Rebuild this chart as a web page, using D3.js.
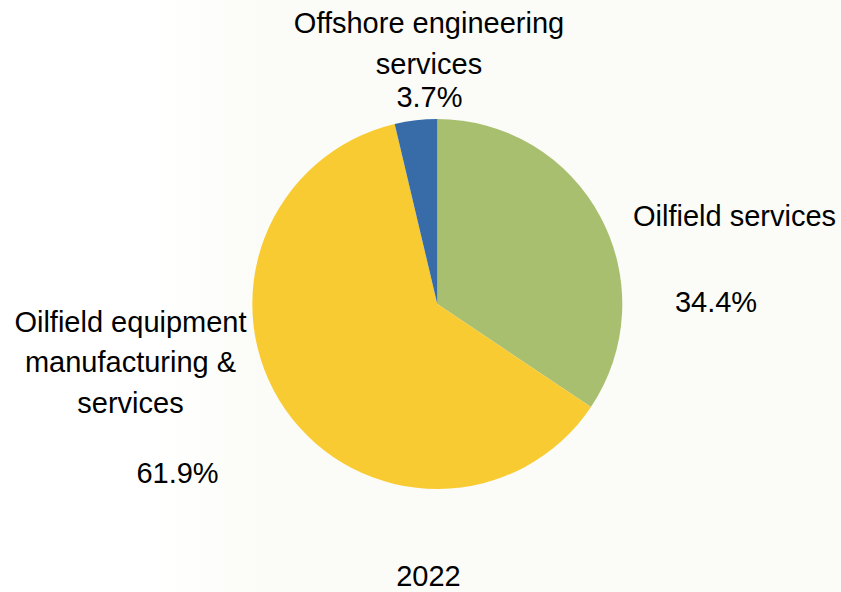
<!DOCTYPE html>
<html>
<head>
<meta charset="utf-8">
<script src="https://cdn.jsdelivr.net/npm/d3@7"></script>
<style>
  html, body { margin: 0; padding: 0; background: #ffffff; }
  svg { display: block; }
  text { font-family: "Liberation Sans", Arial, sans-serif; fill: #000; }
</style>
</head>
<body>
<svg id="chart" width="841" height="592"></svg>
<script>
// Segment shares for 2022 (percent)
const categories = ["Oilfield services", "Oilfield equipment manufacturing & services", "Offshore engineering services"];
const shares = [34.4, 61.9, 3.7];
const colors = ["#a9bf70", "#f9cb33", "#376ca9"];
const yearLabel = "2022";

// Label lines for each segment (name lines; the value goes underneath)
const nameLines = [
  ["Oilfield services"],
  ["Oilfield equipment", "manufacturing &", "services"],
  ["Offshore engineering", "services"]
];

const W = 841, H = 592;
const cx = 437.3, cy = 304, R = 185;

const svg = d3.select("#chart");

// soft off-white plot-area backdrop
const defs = svg.append("defs");
const grad = defs.append("linearGradient").attr("id", "bg")
  .attr("gradientUnits", "userSpaceOnUse")
  .attr("x1", 150).attr("y1", 0).attr("x2", 260).attr("y2", 0);
grad.append("stop").attr("offset", 0).attr("stop-color", "#ffffff");
grad.append("stop").attr("offset", 1).attr("stop-color", "#fbfcf7");
svg.append("rect").attr("x", 0).attr("y", 0).attr("width", W).attr("height", H).attr("fill", "url(#bg)");

const data = categories.map((c, i) => ({ name: c, value: shares[i], color: colors[i], lines: nameLines[i] }));

const pie = d3.pie().value(d => d.value).sort(null);
const arc = d3.arc().innerRadius(0).outerRadius(R);
const arcs = pie(data);

const g = svg.append("g").attr("transform", `translate(${cx},${cy})`);
g.selectAll("path")
  .data(arcs)
  .join("path")
  .attr("d", arc)
  .attr("fill", d => d.data.color);

// label placement: baselines for the name lines and the value line
const labelLayout = [
  { x: 734.5, nameY: [226], valueX: 716, valueY: 312 },
  { x: 130.5, nameY: [332, 372, 413], valueX: 177.5, valueY: 483 },
  { x: 429, nameY: [33, 74], valueX: 429.5, valueY: 107 }
];

const fontSize = 29;
const fmt = d3.format(".1f");
arcs.forEach((a, i) => {
  const L = labelLayout[i];
  a.data.lines.forEach((line, j) => {
    svg.append("text")
      .attr("x", L.x).attr("y", L.nameY[j])
      .attr("text-anchor", "middle")
      .attr("font-size", fontSize)
      .text(line);
  });
  svg.append("text")
    .attr("x", L.valueX).attr("y", L.valueY)
    .attr("text-anchor", "middle")
    .attr("font-size", fontSize)
    .text(fmt(a.data.value) + "%");
});

svg.append("text")
  .attr("x", 428.5).attr("y", 586)
  .attr("text-anchor", "middle")
  .attr("font-size", fontSize)
  .text(yearLabel);
</script>
</body>
</html>
